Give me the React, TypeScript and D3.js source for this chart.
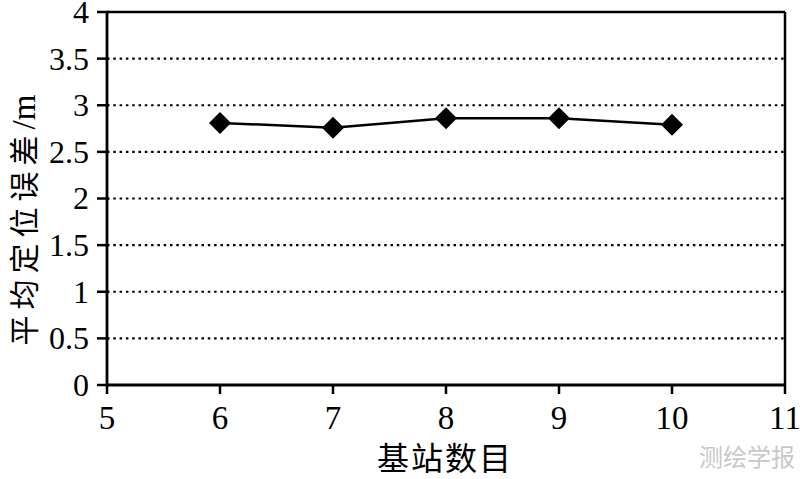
import React from "react";
import * as d3 from "d3";

const stations = [6, 7, 8, 9, 10];
const meanError = [2.81, 2.76, 2.86, 2.86, 2.79];
const xTicks = [5, 6, 7, 8, 9, 10, 11];
const yTicks = [0, 0.5, 1, 1.5, 2, 2.5, 3, 3.5, 4];
const xLabel = "基站数目";
const yLabel = "平均定位误差";
const yUnit = "/m";
const watermark = "测绘学报";

const W = 800;
const H = 479;
const left = 107;
const right = 785;
const top = 12;
const bottom = 385;

export default function App() {
  const x = d3.scaleLinear().domain([5, 11]).range([left, right]);
  const y = d3.scaleLinear().domain([0, 4]).range([bottom, top]);
  const line = d3
    .line<number>()
    .x((_, i) => x(stations[i]))
    .y((d) => y(d));
  const serif = "'Liberation Serif', 'Times New Roman', serif";
  const cjk = "'Noto Sans CJK SC', sans-serif";
  const r = 11;
  return (
    <svg
      width={W}
      height={H}
      style={{ position: "absolute", left: 0, top: 0, background: "#fff" }}
    >
      <rect width={W} height={H} fill="#fff" />
      {yTicks
        .filter((t) => t > 0 && t < 4)
        .map((t) => (
          <line
            key={"g" + t}
            x1={left}
            x2={right}
            y1={y(t)}
            y2={y(t)}
            stroke="#000"
            strokeWidth={2.2}
            strokeDasharray="2.5 3.8"
          />
        ))}
      <line x1={left} x2={right} y1={y(4)} y2={y(4)} stroke="#000" strokeWidth={2.5} />
      <line x1={right} x2={right} y1={y(4)} y2={bottom} stroke="#000" strokeWidth={2.5} />
      <line x1={left} x2={left} y1={top} y2={bottom} stroke="#000" strokeWidth={2.8} />
      <line x1={left} x2={right} y1={bottom} y2={bottom} stroke="#000" strokeWidth={2.8} />
      {yTicks.map((t) => (
        <g key={"y" + t}>
          <line x1={left - 10} x2={left + 2} y1={y(t)} y2={y(t)} stroke="#000" strokeWidth={2.5} />
          <text
            x={left - 18}
            y={y(t)}
            dy="0.34em"
            textAnchor="end"
            fontFamily={serif}
            fontSize={32}
            fill="#000"
          >
            {String(t)}
          </text>
        </g>
      ))}
      {xTicks.map((t) => (
        <g key={"x" + t}>
          <line x1={x(t)} x2={x(t)} y1={bottom} y2={bottom + 9} stroke="#000" strokeWidth={2.5} />
          <text
            x={x(t)}
            y={429}
            textAnchor="middle"
            fontFamily={serif}
            fontSize={33}
            fill="#000"
          >
            {String(t)}
          </text>
        </g>
      ))}
      <path d={line(meanError) || ""} fill="none" stroke="#000" strokeWidth={2.5} />
      {meanError.map((v, i) => {
        const cx = x(stations[i]);
        const cy = y(v);
        return (
          <path
            key={"m" + i}
            d={`M${cx},${cy - r}L${cx + r},${cy}L${cx},${cy + r}L${cx - r},${cy}Z`}
            fill="#000"
          />
        );
      })}
      <text
        x={445}
        y={470}
        textAnchor="middle"
        fontFamily={cjk}
        fontSize={32}
        letterSpacing={2}
        fill="#000"
      >
        {xLabel}
      </text>
      <text
        transform={`translate(35,220) rotate(-90)`}
        textAnchor="middle"
        fontFamily={cjk}
        fontSize={30}
        letterSpacing={6}
        fill="#000"
      >
        {yLabel}
        <tspan fontFamily={serif} fontSize={33} letterSpacing={0}>
          {yUnit}
        </tspan>
      </text>
      <text x={795} y={466} textAnchor="end" fontFamily={cjk} fontSize={24} fill="#c8c8c8">
        {watermark}
      </text>
    </svg>
  );
}
